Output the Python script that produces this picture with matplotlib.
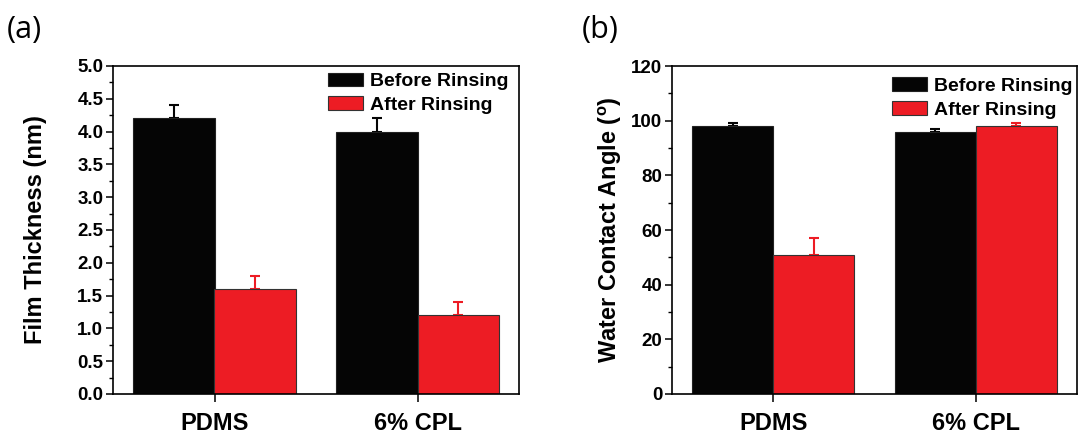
import numpy as np
import matplotlib
matplotlib.use('Agg')
import matplotlib.pyplot as plt
from matplotlib.ticker import MultipleLocator

# data
samples = ['PDMS', '6% CPL']
series = ['Before Rinsing', 'After Rinsing']

thick_before = [4.2, 4.0]
thick_before_err = [0.2, 0.2]
thick_after = [1.6, 1.2]
thick_after_err = [0.2, 0.2]

wca_before = [98, 96]
wca_before_err = [1, 1]
wca_after = [51, 98]
wca_after_err = [6, 1]

black = '#050505'
red = '#ED1C24'

plt.rcParams['font.family'] = ['Liberation Sans', 'DejaVu Sans']
plt.rcParams['font.weight'] = 'bold'

fig = plt.figure(figsize=(10.78, 4.33), dpi=100)
ax_a = fig.add_axes([113/1078, 39/433, 406/1078, 328/433])
ax_b = fig.add_axes([672/1078, 39/433, 405/1078, 328/433])


def draw_panel(ax, before, before_err, after, after_err, ylim, major, minor, ylabel, fmt, leg_anchor, lpad):
    x = np.arange(1, len(samples) + 1)
    w = 0.4
    b1 = ax.bar(x - w/2, before, w, color=black, edgecolor='#222222', linewidth=0.8, label=series[0], zorder=2)
    b2 = ax.bar(x + w/2, after, w, color=red, edgecolor='#333333', linewidth=0.8, label=series[1], zorder=2)
    # upper error bars only
    ax.errorbar(x - w/2, before, yerr=[np.zeros(len(before)), before_err], fmt='none',
                ecolor=black, elinewidth=1.5, capsize=3.5, capthick=1.5, zorder=1)
    ax.errorbar(x + w/2, after, yerr=[np.zeros(len(after)), after_err], fmt='none',
                ecolor=red, elinewidth=1.5, capsize=3.5, capthick=1.5, zorder=1)

    ax.set_xlim(0.5, 2.5)
    ax.set_ylim(*ylim)
    ax.set_xticks(x)
    ax.set_xticklabels(samples, fontsize=17, fontweight='bold')
    ax.yaxis.set_major_locator(MultipleLocator(major))
    ax.yaxis.set_minor_locator(MultipleLocator(minor))
    ax.yaxis.set_major_formatter(plt.FormatStrFormatter(fmt))
    for lab in ax.get_yticklabels():
        lab.set_fontsize(13.5)
        lab.set_fontweight('bold')
    ax.tick_params(axis='y', which='major', direction='out', length=5, width=1.1, pad=2)
    ax.tick_params(axis='y', which='minor', direction='out', length=3, width=1.0)
    ax.tick_params(axis='x', which='major', direction='out', length=6, width=1.1, pad=7)
    ax.tick_params(axis='x', which='minor', bottom=False)
    for s in ax.spines.values():
        s.set_linewidth(1.2)
    ax.set_ylabel(ylabel, fontsize=17, fontweight='bold', labelpad=lpad)

    ax.legend(handles=[b1, b2], loc='upper right', bbox_to_anchor=leg_anchor, frameon=False,
              prop={'size': 14, 'weight': 'bold'}, borderpad=0, borderaxespad=0,
              handlelength=1.8, handleheight=0.7, handletextpad=0.4, labelspacing=0.3)


draw_panel(ax_a, thick_before, thick_before_err, thick_after, thick_after_err,
           (0, 5.0), 0.5, 0.25, 'Film Thickness (nm)', '%.1f', (0.975, 0.98), 22)
draw_panel(ax_b, wca_before, wca_before_err, wca_after, wca_after_err,
           (0, 120), 20, 10, r'Water Contact Angle ($^{\mathregular{o}}$)', '%d', (0.99, 0.965), 5)

fig.text(7/1078, 1 - 30/433, '(a)', fontsize=22, fontweight='normal', family='Open Sans', va='center', ha='left')
fig.text(582/1078, 1 - 30/433, '(b)', fontsize=22, fontweight='normal', family='Open Sans', va='center', ha='left')

fig.savefig('out.png', dpi=100)
